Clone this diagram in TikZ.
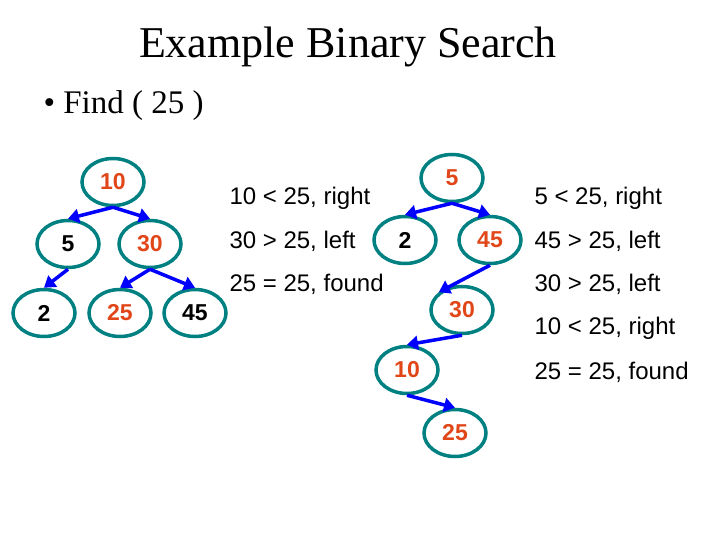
\documentclass[tikz,border=0pt]{standalone}
\usepackage{fontspec}
\setmainfont{Liberation Serif}
\setsansfont{Liberation Sans}
\usetikzlibrary{arrows.meta,shapes.geometric}
\definecolor{tealring}{RGB}{0,128,128}
\definecolor{pathred}{RGB}{225,70,25}
\tikzset{
	key/.style={ellipse, draw=tealring, line width=3.5pt, minimum width=62pt, minimum height=47pt, inner sep=0pt, font=\sffamily\bfseries\fontsize{23}{27}\selectfont},
	hit/.style={key, text=pathred},
	step arrow/.style={draw=blue, line width=3.5pt, -{Triangle[length=11pt,width=14pt]}},
	note/.style={anchor=west, font=\sffamily\fontsize{24}{28}\selectfont},
}
\begin{document}
\begin{tikzpicture}[x=1pt, y=-1pt]
\useasboundingbox (0,0) rectangle (720,540);
\node at (348,47) {\fontsize{44}{52}\selectfont Example Binary Search};
\node[anchor=west] at (40,106) {\fontsize{33}{38}\selectfont \textbullet\ Find ( 25 )};
% first tree
\node[hit] (a10) at (113,182) {10};
\node[key] (a5) at (68,244) {5};
\node[hit] (a30) at (150,244) {30};
\node[key] (a2) at (44,313) {2};
\node[hit] (a25) at (120,313) {25};
\node[key] (a45) at (195,313) {45};
\draw[step arrow] (a10.south) -- (a5.north);
\draw[step arrow] (a10.south) -- (a30.north);
\draw[step arrow] (a5.south) -- (a2.north);
\draw[step arrow] (a30.south) -- (a25.north);
\draw[step arrow] (a30.south) -- (a45.north);
\node[note] (n1) at (226,198) {10 < 25, right};
\node[note] (n2) at (226,241) {30 > 25, left};
\node[note] (n3) at (226,284) {25 = 25, found};
% second tree
\node[hit] (b5) at (452,178) {5};
\node[key] (b2) at (405,240) {2};
\node[hit] (b45) at (490,240) {45};
\node[hit] (b30) at (462,310) {30};
\node[hit] (b10) at (407,370) {10};
\node[hit] (b25) at (455,433) {25};
\draw[step arrow] (b5.south) -- (b2.north);
\draw[step arrow] (b5.south) -- (b45.north);
\draw[step arrow] (b45.south) -- (b30.north west);
\draw[step arrow] (b30.south) -- (b10.north);
\draw[step arrow] (b10.south) -- (b25.north);
\node[note] (m1) at (531,198) {5 < 25, right};
\node[note] (m2) at (531,241) {45 > 25, left};
\node[note] (m3) at (531,284) {30 > 25, left};
\node[note] (m4) at (531,328) {10 < 25, right};
\node[note] (m5) at (531,372) {25 = 25, found};
\end{tikzpicture}
\end{document}
